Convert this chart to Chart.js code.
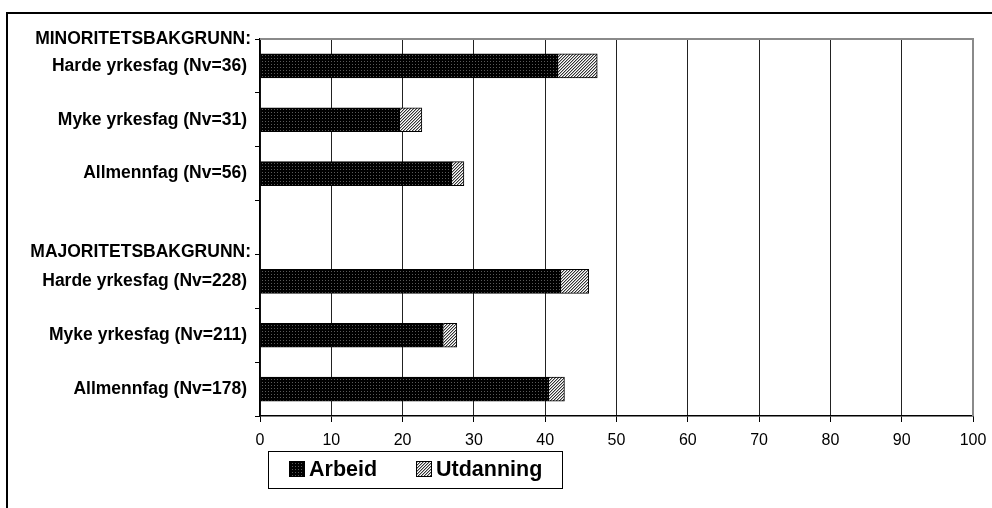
<!DOCTYPE html>
<html>
<head>
<meta charset="utf-8">
<script src="https://cdn.jsdelivr.net/npm/chart.js@4/dist/chart.umd.min.js"></script>
<style>
  html, body { margin: 0; padding: 0; background: #fff; }
  #wrap { width: 992px; height: 508px; }
</style>
</head>
<body>
<div id="wrap"><canvas id="c" width="992" height="508"></canvas></div>
<script>
// Rows, top to bottom; the empty row separates the two groups
const categories = [
  'Harde yrkesfag (Nv=36)',
  'Myke yrkesfag (Nv=31)',
  'Allmennfag (Nv=56)',
  '',
  'Harde yrkesfag (Nv=228)',
  'Myke yrkesfag (Nv=211)',
  'Allmennfag (Nv=178)'
];
// Group headings, placed above the row with the given index
const groupHeadings = ['MINORITETSBAKGRUNN:', 'MAJORITETSBAKGRUNN:'];
const groupStartRows = [0, 4];

const arbeid     = [41.8, 19.6, 26.9, null, 42.2, 25.7, 40.5];
const utdanning  = [5.5, 3.1, 1.7, null, 3.9, 1.9, 2.2];
const xTicks = [0, 10, 20, 30, 40, 50, 60, 70, 80, 90, 100];

const FONT = "'Liberation Sans', Arial, sans-serif";

// Fill patterns: dotted black for Arbeid, fine diagonal hatch for Utdanning
function dotPattern() {
  const p = document.createElement('canvas');
  p.width = 3; p.height = 3;
  const g = p.getContext('2d');
  g.fillStyle = '#000'; g.fillRect(0, 0, 3, 3);
  g.fillStyle = '#5a5a5a'; g.fillRect(1, 1, 1, 1);
  return g.createPattern(p, 'repeat');
}
function hatchPattern() {
  const p = document.createElement('canvas');
  p.width = 3; p.height = 3;
  const g = p.getContext('2d');
  g.fillStyle = '#fff'; g.fillRect(0, 0, 3, 3);
  for (let i = 0; i < 3; i++) {
    g.fillStyle = '#333'; g.fillRect(i, 2 - i, 1, 1);
    g.fillStyle = '#b0b0b0'; g.fillRect(i, (3 - i) % 3, 1, 1);
  }
  return g.createPattern(p, 'repeat');
}
const fillArbeid = dotPattern();
const fillUtd = hatchPattern();

// Outer frame, plot-area border, group headings and boxed legend
const decorations = {
  id: 'decorations',
  beforeDraw(chart) {
    const ctx = chart.ctx;
    ctx.save();
    ctx.fillStyle = '#fff';
    ctx.fillRect(0, 0, chart.width, chart.height);
    ctx.strokeStyle = '#000';
    ctx.lineWidth = 2;
    ctx.beginPath();
    ctx.moveTo(7, chart.height);
    ctx.lineTo(7, 13);
    ctx.lineTo(chart.width, 13);
    ctx.stroke();
    ctx.restore();
  },
  afterDatasetsDraw(chart) {
    const ctx = chart.ctx;
    const a = chart.chartArea;
    ctx.save();
    ctx.strokeStyle = '#8a8a8a';
    ctx.lineWidth = 2;
    ctx.beginPath();
    ctx.moveTo(a.left, a.top);
    ctx.lineTo(a.right, a.top);
    ctx.lineTo(a.right, a.bottom);
    ctx.stroke();
    ctx.restore();
  },
  afterDraw(chart) {
    const ctx = chart.ctx;
    const y = chart.scales.y;
    ctx.save();
    ctx.fillStyle = '#000';
    ctx.font = "bold 17.5px " + FONT;
    ctx.textAlign = 'right';
    ctx.textBaseline = 'middle';
    groupHeadings.forEach((t, i) => {
      const py = y.getPixelForValue(groupStartRows[i] - 0.5);
      ctx.fillText(t, 251, py - (i === 0 ? 0 : 2));
    });

    // Legend
    const lx = 268, ly = 451, lw = 294, lh = 37;
    ctx.fillStyle = '#fff';
    ctx.fillRect(lx, ly, lw, lh);
    ctx.strokeStyle = '#000';
    ctx.lineWidth = 1;
    ctx.strokeRect(lx + 0.5, ly + 0.5, lw, lh);
    const items = chart.data.datasets.map(d => ({ label: d.label, fill: d.backgroundColor }));
    const boxX = [289, 416];
    ctx.font = "bold 21.5px " + FONT;
    ctx.textAlign = 'left';
    items.forEach((it, i) => {
      ctx.fillStyle = it.fill;
      ctx.fillRect(boxX[i], 461, 16, 16);
      ctx.strokeStyle = '#000';
      ctx.strokeRect(boxX[i] + 0.5, 461.5, 15, 15);
      ctx.fillStyle = '#000';
      ctx.fillText(it.label, boxX[i] + 20, 470);
    });
    ctx.restore();
  }
};

new Chart(document.getElementById('c'), {
  type: 'bar',
  data: {
    labels: categories,
    datasets: [
      { label: 'Arbeid', data: arbeid, backgroundColor: fillArbeid, borderColor: '#000', borderWidth: 1, barThickness: 24 },
      { label: 'Utdanning', data: utdanning, backgroundColor: fillUtd, borderColor: '#000', borderWidth: 1, barThickness: 24 }
    ]
  },
  options: {
    indexAxis: 'y',
    responsive: false,
    animation: false,
    layout: { padding: { top: 39, right: 19, left: 0, bottom: 0 } },
    plugins: { legend: { display: false }, tooltip: { enabled: false } },
    scales: {
      x: {
        stacked: true,
        min: 0, max: 100,
        afterBuildTicks(s) { s.ticks = xTicks.map(v => ({ value: v })); },
        afterFit(s) { s.height = 92; s.paddingLeft = 0; s.paddingRight = 0; },
        grid: {
          color: ctx => (ctx.tick && ctx.tick.value === 100) ? '#8a8a8a' : '#222',
          tickColor: '#000',
          tickLength: 6,
          lineWidth: 1
        },
        border: { color: '#000', width: 1.5 },
        ticks: {
          color: '#000',
          padding: 9,
          font: { family: FONT, size: 16 },
          maxRotation: 0
        }
      },
      y: {
        stacked: true,
        afterFit(s) { s.width = 260; },
        grid: {
          drawOnChartArea: false,
          tickColor: '#000',
          tickLength: 5,
          offset: true
        },
        border: { color: '#000', width: 1.5 },
        ticks: {
          color: '#000',
          padding: 8,
          font: { family: FONT, size: 17.5, weight: 'bold' },
          autoSkip: false
        }
      }
    }
  },
  plugins: [decorations]
});
</script>
</body>
</html>
